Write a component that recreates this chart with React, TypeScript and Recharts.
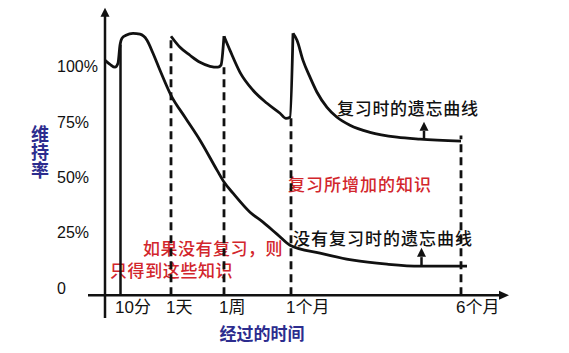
import React from 'react';
import { LineChart, Line, XAxis, YAxis, ReferenceLine, ReferenceDot, Customized } from 'recharts';

// 时间刻度（横轴位置为示意刻度，非线性时间）
const timeTicks = [15, 66, 119, 186, 356];
const timeLabels = ['10分', '1天', '1周', '1个月', '6个月'];
// 各时间点竖线的顶端（复习曲线在该处的高度）
const markerTops = [110, 113.8, 99.8, 77, 69];

const retentionTicks = [0, 25, 50, 75, 100];
const retentionLabels = ['0', '25%', '50%', '75%', '100%'];

const baseline = -3.2;

// 没有复习时的遗忘曲线
const noReview = [
  { t: 0, v: 102.9 }, { t: 5, v: 101.1 }, { t: 10, v: 99.8 }, { t: 13, v: 101.6 },
  { t: 15, v: 109.7 }, { t: 17, v: 112.9 }, { t: 21, v: 114.2 }, { t: 28, v: 115.1 },
  { t: 35, v: 114.7 }, { t: 42, v: 112.0 }, { t: 48, v: 106.1 }, { t: 55, v: 98.4 },
  { t: 66, v: 87.1 }, { t: 80, v: 77.2 }, { t: 95, v: 66.8 }, { t: 112, v: 53.3 },
  { t: 119, v: 47.9 }, { t: 128, v: 42.9 }, { t: 145, v: 34.3 }, { t: 158, v: 29.8 },
  { t: 172, v: 24.4 }, { t: 185, v: 19.4 }, { t: 215, v: 15.8 }, { t: 248, v: 12.6 },
  { t: 282, v: 10.8 }, { t: 315, v: 9.9 }, { t: 362, v: 9.9 },
];

// 复习时的遗忘曲线（三次复习后的分段）
const reviewDay = [
  { t: 66, v: 113.8 }, { t: 75, v: 108.8 }, { t: 85, v: 105.2 }, { t: 95, v: 102.0 },
  { t: 105, v: 100.2 }, { t: 113, v: 99.8 }, { t: 116, v: 100.7 }, { t: 119, v: 113.8 },
];
const reviewWeek = [
  { t: 119, v: 113.8 }, { t: 125, v: 107.4 }, { t: 135, v: 97.5 }, { t: 148, v: 89.4 },
  { t: 162, v: 83.5 }, { t: 175, v: 79.0 }, { t: 181, v: 76.7 }, { t: 185, v: 77.2 },
  { t: 188, v: 115.1 },
];
const reviewMonth = [
  { t: 188, v: 115.1 }, { t: 192, v: 112.0 }, { t: 198, v: 102.9 }, { t: 205, v: 95.3 },
  { t: 212, v: 88.5 }, { t: 222, v: 81.7 }, { t: 232, v: 77.2 }, { t: 245, v: 73.6 },
  { t: 265, v: 70.4 }, { t: 292, v: 68.2 }, { t: 315, v: 67.3 }, { t: 356, v: 66.4 },
];

const INK = '#111';
const RED = '#d2262c';
const NAVY = '#2c2c8e';
const CJK = '"Noto Sans CJK SC", sans-serif';
const NUM = '"Liberation Sans", Arial, "Noto Sans CJK SC", sans-serif';

const upArrow = (p: any) => (
  <polygon points={`${p.cx},${p.cy} ${p.cx - 4.5},${p.cy + 9} ${p.cx + 4.5},${p.cy + 9}`} fill={INK} />
);
const rightArrow = (p: any) => (
  <polygon points={`${p.cx},${p.cy} ${p.cx - 10},${p.cy - 4.5} ${p.cx - 10},${p.cy + 4.5}`} fill={INK} />
);

const XTick = (props: any) => {
  const i = timeTicks.indexOf(props.payload.value);
  return (
    <text x={props.x - 5} y={307} textAnchor="start" dominantBaseline="central" fontSize={17} fontFamily={NUM} fill={INK}>
      {timeLabels[i]}
    </text>
  );
};

const YTick = (props: any) => {
  const i = retentionTicks.indexOf(props.payload.value);
  return (
    <text x={57} y={props.y} textAnchor="start" dominantBaseline="central" fontSize={16} fontFamily={NUM} fill={INK}>
      {retentionLabels[i]}
    </text>
  );
};

const Notes = () => (
  <g fontFamily={CJK} fontWeight={500}>
    <text x={337} y={107} fontSize={17} fill={INK} dominantBaseline="central" letterSpacing={0.7}>复习时的遗忘曲线</text>
    <text x={293} y={237} fontSize={17} fill={INK} dominantBaseline="central" letterSpacing={1}>没有复习时的遗忘曲线</text>
    <text x={288} y={183} fontSize={17} fill={RED} dominantBaseline="central" letterSpacing={1}>复习所增加的知识</text>
    <text x={143} y={247} fontSize={17} fill={RED} dominantBaseline="central" letterSpacing={0.5}>如果没有复习，则</text>
    <text x={110} y={269} fontSize={17} fill={RED} dominantBaseline="central" letterSpacing={0.6}>只得到这些知识</text>
    <text x={262} y={332} fontSize={17} fill={NAVY} fontWeight="bold" textAnchor="middle" dominantBaseline="central">经过的时间</text>
    <text x={40} y={125} fontSize={18} fill={NAVY} fontWeight="bold" style={{ writingMode: 'vertical-rl' }}>维持率</text>
  </g>
);

export default function App() {
  return (
    <div style={{ position: 'absolute', left: 0, top: 0, background: '#fff' }}>
      <LineChart width={569} height={353} margin={{ top: 7, right: 59, bottom: 5, left: 8 }}>
        <XAxis
          type="number"
          dataKey="t"
          domain={[-17, 405]}
          ticks={timeTicks}
          tick={<XTick />}
          axisLine={false}
          tickLine={false}
          height={30}
          allowDataOverflow
        />
        <YAxis
          type="number"
          domain={[-13.5, 127]}
          ticks={retentionTicks}
          tick={<YTick />}
          axisLine={false}
          tickLine={false}
          width={80}
          allowDataOverflow
        />
        {/* axes */}
        <ReferenceLine segment={[{ x: 0, y: -13.5 }, { x: 0, y: 123 }]} stroke={INK} strokeWidth={2.5} ifOverflow="visible" />
        <ReferenceDot x={0} y={126.7} shape={upArrow} ifOverflow="visible" />
        <ReferenceLine segment={[{ x: -17, y: baseline }, { x: 398, y: baseline }]} stroke={INK} strokeWidth={2.5} ifOverflow="visible" />
        <ReferenceDot x={404} y={baseline} shape={rightArrow} ifOverflow="visible" />
        {/* time markers */}
        {timeTicks.map((t, i) => (
          <ReferenceLine
            key={t}
            segment={[{ x: i === 0 ? t + 0.5 : t, y: baseline }, { x: i === 0 ? t + 0.5 : t, y: markerTops[i] }]}
            stroke={INK}
            strokeWidth={i === 0 ? 2.5 : 2.8}
            strokeDasharray={i === 0 ? undefined : '8 5'}
            ifOverflow="visible"
          />
        ))}
        {/* label arrows */}
        <ReferenceLine segment={[{ x: 319, y: 67.3 }, { x: 319, y: 71 }]} stroke={INK} strokeWidth={2.5} />
        <ReferenceDot x={319} y={75.2} shape={upArrow} />
        <ReferenceLine segment={[{ x: 316.5, y: 9.9 }, { x: 316.5, y: 14 }]} stroke={INK} strokeWidth={2.5} />
        <ReferenceDot x={316.5} y={18.2} shape={upArrow} />

        <Line data={noReview} dataKey="v" type="monotone" stroke={INK} strokeWidth={2.8} dot={false} isAnimationActive={false} />
        <Line data={reviewDay} dataKey="v" type="monotone" stroke={INK} strokeWidth={2.8} dot={false} isAnimationActive={false} />
        <Line data={reviewWeek} dataKey="v" type="monotone" stroke={INK} strokeWidth={2.8} dot={false} isAnimationActive={false} />
        <Line data={reviewMonth} dataKey="v" type="monotone" stroke={INK} strokeWidth={2.8} dot={false} isAnimationActive={false} />
        <Customized component={Notes} />
      </LineChart>
    </div>
  );
}
